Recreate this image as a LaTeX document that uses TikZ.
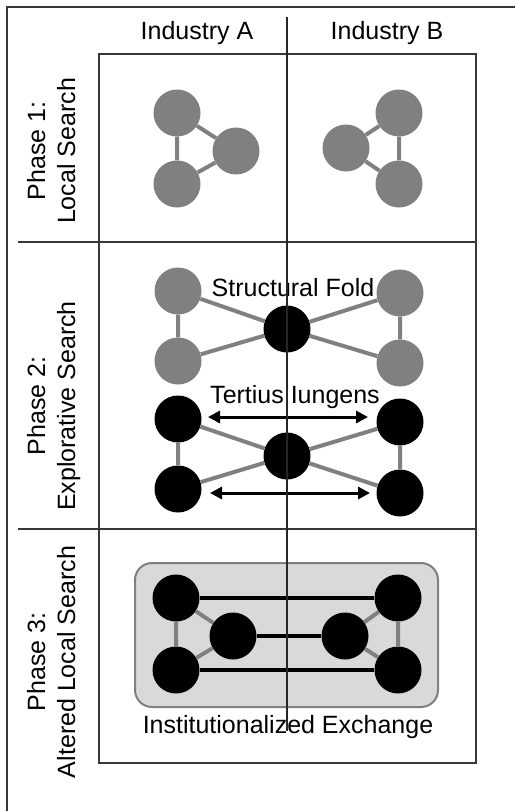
\documentclass[tikz,border=0pt]{standalone}
\usepackage{fontspec}
\setmainfont{Liberation Sans}
\usetikzlibrary{arrows.meta}
\definecolor{nodegray}{HTML}{808080}
\definecolor{gridline}{HTML}{383838}
\definecolor{boxfill}{HTML}{D9D9D9}
\begin{document}
\begin{tikzpicture}[x=1pt,y=-1pt,
  lbl/.style={font=\fontsize{25}{30}\selectfont, inner sep=0pt, anchor=base},
  plbl/.style={lbl, rotate=90},
  gnode/.style={circle, fill=nodegray, minimum size=47pt, inner sep=0pt},
  bnode/.style={circle, fill=black, minimum size=47pt, inner sep=0pt},
  gedge/.style={draw=nodegray, line width=4pt},
  bedge/.style={draw=black, line width=4pt},
  biarrow/.style={draw=black, line width=3pt,
    {Triangle[length=12pt,width=12pt]}-{Triangle[length=12pt,width=12pt]}},
  gridln/.style={draw=gridline, line width=1.6pt},
  midln/.style={draw=black!85, line width=1.4pt},
]
\useasboundingbox (0,0) rectangle (515,811);

% outer frame and table grid
\draw[gridln] (7,811) -- (7,7) -- (515,7);
\draw[gridln] (99,54) rectangle (476,763);
\draw[gridln] (18,242) -- (476,242);
\draw[gridln] (18,529) -- (476,529);

% column and row headings
\node[lbl] (indA) at (197,39) {Industry A};
\node[lbl] (indB) at (387,39) {Industry B};
\node[plbl] (p1a) at (45,151) {Phase 1:};
\node[plbl] (p1b) at (75,151) {Local Search};
\node[plbl] (p2a) at (45,406) {Phase 2:};
\node[plbl] (p2b) at (75,406) {Explorative Search};
\node[plbl] (p3a) at (45,662) {Phase 3:};
\node[plbl] (p3b) at (75,662) {Altered Local Search};

% phase 1: two separate triads
\node[gnode] (a1) at (177,113) {};
\node[gnode] (a2) at (236,151) {};
\node[gnode] (a3) at (177,184) {};
\node[gnode] (b1) at (399,113) {};
\node[gnode] (b2) at (346,148) {};
\node[gnode] (b3) at (399,184) {};
\draw[gedge] (a1) -- (a2) (a2) -- (a3) (a3) -- (a1);
\draw[gedge] (b1) -- (b2) (b2) -- (b3) (b3) -- (b1);

% phase 2: structural fold
\node[gnode] (fl1) at (178,291) {};
\node[gnode] (fl2) at (178,361) {};
\node[bnode] (fc)  at (287,329) {};
\node[gnode] (fr1) at (400,293) {};
\node[gnode] (fr2) at (400,363) {};
\draw[gedge] (fl1) -- (fl2) (fl1) -- (fc) (fl2) -- (fc)
             (fr1) -- (fr2) (fr1) -- (fc) (fr2) -- (fc);
\node[lbl] (sfold) at (293,296) {Structural Fold};

% phase 2: tertius iungens
\node[bnode] (tl1) at (178,419) {};
\node[bnode] (tl2) at (178,489) {};
\node[bnode] (tc)  at (287,456) {};
\node[bnode] (tr1) at (400,422) {};
\node[bnode] (tr2) at (400,493) {};
\draw[gedge] (tl1) -- (tl2) (tl1) -- (tc) (tl2) -- (tc)
             (tr1) -- (tr2) (tr1) -- (tc) (tr2) -- (tc);
\node[lbl] (tiung) at (295,403) {Tertius Iungens};
\coordinate (ua) at (208,417);
\coordinate (ub) at (368,417);
\coordinate (la) at (210,493);
\coordinate (lb) at (370,493);
\draw[biarrow] (ua) -- (ub);
\draw[biarrow] (la) -- (lb);

% phase 3: institutionalized exchange
\draw[draw=nodegray, fill=boxfill, line width=2pt, rounded corners=17pt]
  (135,563) rectangle (438,707);
\node[bnode] (xtl) at (176,598) {};
\node[bnode] (xbl) at (176,670) {};
\node[bnode] (xil) at (233,636) {};
\node[bnode] (xir) at (345,636) {};
\node[bnode] (xtr) at (398,598) {};
\node[bnode] (xbr) at (398,670) {};
\draw[gedge] (xtl) -- (xbl) (xtl) -- (xil) (xbl) -- (xil)
             (xtr) -- (xbr) (xtr) -- (xir) (xbr) -- (xir);
\draw[bedge] (xtl) -- (xtr) (xil) -- (xir) (xbl) -- (xbr);
\node[lbl] (inst) at (288,733) {Institutionalized Exchange};

% dividing line between the two industries
\coordinate (mtop) at (287,17);
\coordinate (mbot) at (287,731);
\draw[midln] (mtop) -- (mbot);
\end{tikzpicture}
\end{document}
